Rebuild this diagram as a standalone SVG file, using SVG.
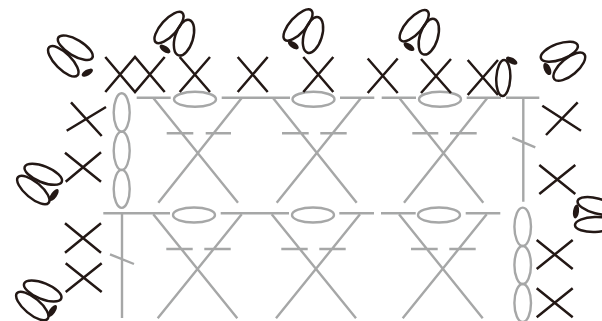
<svg xmlns="http://www.w3.org/2000/svg" width="602" height="321" viewBox="0 0 602 321">
<style>
.k{fill:none;stroke:#231815;stroke-width:2.5}
.g{fill:none;stroke:#a6a7a7;stroke-width:2.4}
.b{fill:#231815;stroke:none}
</style>
<rect width="602" height="321" fill="#fff"/>
<g id="connectors" class="g">
<path d="M136.700 97.700H170.700M221.700 97.700H290M340 97.700H374.300M381.700 97.700H416M466.700 97.700H501M506 97.700H539.300"/>
<path d="M153.300 98L238 202.700M241.700 98L158.300 202.700M166.700 133.300H193.300M205.700 133.300H231"/>
<path d="M273 98L356.700 202.700M361 98L276.700 202.700M282 133.300H308.700M320.300 133.300H346.700"/>
<path d="M399.300 98L483.300 202.700M487.300 98L404 202.700M412.300 133.300H438.300M450 133.300H476.700"/>
<path d="M103.300 213.300H170M220.700 213.300H289M339.300 213.300H374M381 213.300H415.700M465.700 213.300H500.300"/>
<path d="M153.300 214.300L237.300 318.300M241.700 214.300L157.700 318.300M166.300 249H192.700M204.300 249H230.700"/>
<path d="M271.700 214.300L356 318.300M360 214.300L276 318.300M281.300 249H307.700M319.300 249H345.700"/>
<path d="M399 214.300L482.700 318.300M486.700 214.300L402.700 318.300M411 249H437.700M449.300 249H475.700"/>
<path d="M122 213.300V318M110 254.300L134 264M523.300 98V201.700M512.300 137.700L535.300 147.300"/>
</g>
<g id="gray-ovals" class="g">
<ellipse cx="195" cy="99.300" rx="21" ry="7.500"/><ellipse cx="313.500" cy="99.300" rx="21" ry="7.500"/><ellipse cx="440" cy="99.300" rx="21" ry="7.500"/>
<ellipse cx="194" cy="215" rx="21" ry="7.500"/><ellipse cx="313" cy="215" rx="21" ry="7.500"/><ellipse cx="439" cy="215" rx="21" ry="7.500"/>
<ellipse cx="121.700" cy="112.500" rx="8" ry="19.200"/><ellipse cx="121.700" cy="150.800" rx="8" ry="19.200"/><ellipse cx="121.700" cy="188.900" rx="8" ry="19"/>
<ellipse cx="522.700" cy="226.800" rx="8.300" ry="19.200"/><ellipse cx="522.700" cy="265" rx="8.300" ry="19"/><ellipse cx="522.700" cy="303" rx="8.300" ry="19"/>
</g>
<g id="black-crosses" class="k">
<path d="M105.300 57L135 92L164.700 57M105.300 92L135 57L164.700 92"/>
<path d="M179.700 57L210 92M210 57L179.700 92"/>
<path d="M237.700 57L267.700 92M267.700 57L237.700 92"/>
<path d="M303.300 57L333.300 92M333.300 57L303.300 92"/>
<path d="M367.700 58.500L397.700 93M397.700 58.500L367.700 93"/>
<path d="M421 59L451 93M451 59L421 93"/>
<path d="M467.700 60L498 95M498 60L467.700 95"/>
<path d="M71 102.300L101.700 136M106 107L66.700 130.700"/>
<path d="M65 152.700L101 181.700M65.700 181.700L101 152.300"/>
<path d="M65 223.300L101 252.700M65 252.700L101 223.300"/>
<path d="M65.700 263.300L101.700 292M65.700 292L101.700 263.300"/>
<path d="M542.300 105.700L581 130.700M577.700 102.300L546 135"/>
<path d="M539.300 165L575.300 194M539.300 194L575.300 165"/>
<path d="M536.700 240L572.700 269M536.700 269L572.700 240"/>
<path d="M536.700 288.300L572.700 317.300M536.700 317.300L572.700 288.300"/>
</g>
<g id="loop-top-1">
<ellipse class="k" cx="169" cy="27.500" rx="8" ry="19.800" transform="rotate(42 169 27.500)"/>
<ellipse class="k" cx="184" cy="37.700" rx="9" ry="18.500" transform="rotate(17 184 37.700)"/>
<ellipse class="b" cx="165" cy="49" rx="6.300" ry="3" transform="rotate(35 165 49)"/>
</g>
<g id="loop-top-2">
<ellipse class="k" cx="298" cy="25" rx="8" ry="19.800" transform="rotate(42 298 25)"/>
<ellipse class="k" cx="313" cy="35" rx="9" ry="18.500" transform="rotate(17 313 35)"/>
<ellipse class="b" cx="293.300" cy="45" rx="6.300" ry="3" transform="rotate(35 293.300 45)"/>
</g>
<g id="loop-top-3">
<ellipse class="k" cx="414.200" cy="25.700" rx="8" ry="19.800" transform="rotate(42 414.200 25.700)"/>
<ellipse class="k" cx="428.800" cy="36.700" rx="9" ry="18.500" transform="rotate(17 428.800 36.700)"/>
<ellipse class="b" cx="409" cy="46.700" rx="6.300" ry="3" transform="rotate(35 409 46.700)"/>
</g>
<g id="loop-top-4">
<ellipse class="k" cx="503.300" cy="78" rx="7" ry="18" transform="rotate(3 503.300 78)"/>
<ellipse class="b" cx="511.700" cy="60.700" rx="6.300" ry="3" transform="rotate(30 511.700 60.700)"/>
</g>
<g id="loop-top-left">
<ellipse class="k" cx="63.300" cy="61.300" rx="8" ry="20" transform="rotate(-45 63.300 61.300)"/>
<ellipse class="k" cx="75.300" cy="47.700" rx="8" ry="19.800" transform="rotate(-59 75.300 47.700)"/>
<ellipse class="b" cx="87.300" cy="72.700" rx="6.300" ry="3" transform="rotate(-30 87.300 72.700)"/>
</g>
<g id="loop-left-2">
<ellipse class="k" cx="33.300" cy="190" rx="8" ry="20" transform="rotate(-50 33.300 190)"/>
<ellipse class="k" cx="43.300" cy="174.300" rx="8" ry="20" transform="rotate(-68 43.300 174.300)"/>
<ellipse class="b" cx="54" cy="195" rx="3" ry="7" transform="rotate(35 54 195)"/>
</g>
<g id="loop-left-3">
<ellipse class="k" cx="32.300" cy="306" rx="8" ry="20" transform="rotate(-50 32.300 306)"/>
<ellipse class="k" cx="42.700" cy="291" rx="8" ry="20" transform="rotate(-68 42.700 291)"/>
<ellipse class="b" cx="52.300" cy="311" rx="3" ry="7" transform="rotate(35 52.300 311)"/>
</g>
<g id="loop-right-top">
<ellipse class="k" cx="559.300" cy="51.700" rx="8" ry="19.500" transform="rotate(70 559.300 51.700)"/>
<ellipse class="k" cx="569.300" cy="66.700" rx="8.500" ry="19.500" transform="rotate(50 569.300 66.700)"/>
<ellipse class="b" cx="547.300" cy="69" rx="3.300" ry="6.500" transform="rotate(-25 547.300 69)"/>
</g>
<g id="loop-right-edge">
<ellipse class="k" cx="597" cy="206" rx="7.500" ry="20" transform="rotate(-75 597 206)"/>
<ellipse class="k" cx="595" cy="224.500" rx="7.500" ry="20" transform="rotate(88 595 224.500)"/>
<ellipse class="b" cx="576" cy="211.500" rx="3" ry="7" transform="rotate(8 576 211.500)"/>
</g>
</svg>
